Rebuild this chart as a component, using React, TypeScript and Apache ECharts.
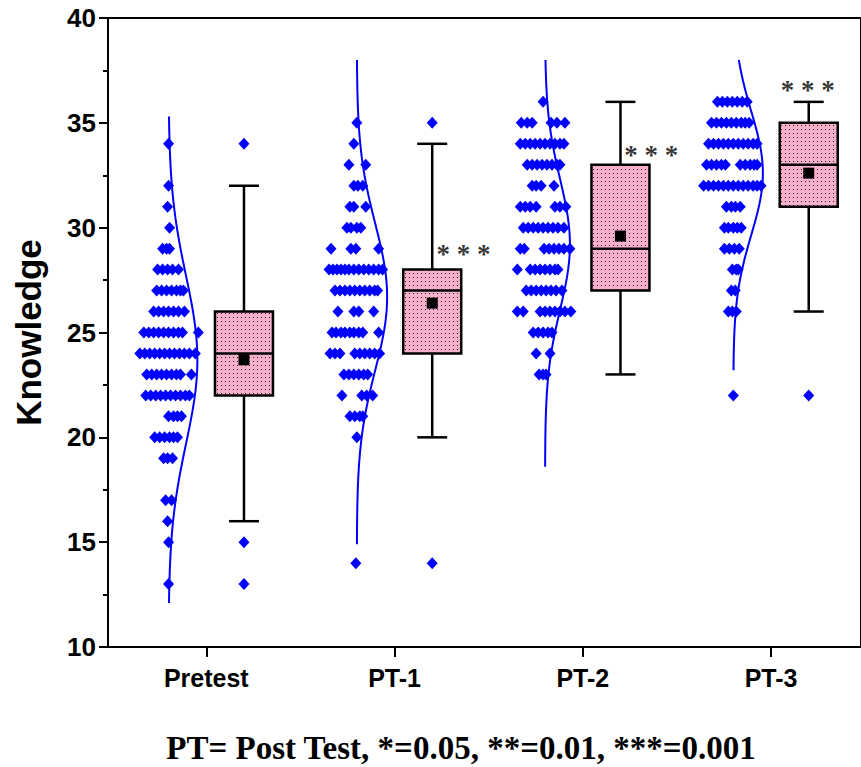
import React, { useEffect, useRef } from "react";
import * as echarts from "echarts";

// ---------------- data ----------------
const categories = ["Pretest", "PT-1", "PT-2", "PT-3"];

// box statistics
const whiskerLow = [16, 20, 23, 26];
const q1 = [22, 24, 27, 31];
const median = [24, 27, 29, 33];
const q3 = [26, 28, 33, 35];
const whiskerHigh = [32, 34, 36, 36];
const means = [23.7, 26.4, 29.6, 32.6];
const outliers: number[][] = [[34, 15, 13], [35, 14], [], [22]];

// fitted normal curves
const curveMean = [23.7, 26.7, 29.2, 32.6];
const curveSD = [4.0, 3.5, 3.1, 2.95];
const curveHeight = [0.153, 0.161, 0.132, 0.157]; // peak height, category units
const curveLow = [12.1, 14.9, 18.6, 23.2];
const curveHigh = [35.3, 38, 38, 38];

// significance marks
const sigLabels = ["", "***", "***", "***"];
const sigValue = [0, 29.1, 33.8, 36.9];

// individual scores: [score, jitter offsets (px)]
const pretestDots: [number, number[]][] = [
  [34, [0]], [32, [0]], [31, [-1]], [30, [1]],
  [29, [-6, -2, 1]],
  [28, [-11, -6, -1, 4, 10]],
  [27, [-12, -7, -2, 3, 8, 12, 15]],
  [26, [-15, -10, -5, 0, 5, 10, 16]],
  [25, [-25, -20, -15, -10, -5, 0, 5, 10, 14, 30]],
  [24, [-29, -24, -19, -14, -9, -4, 1, 6, 11, 16, 21, 27]],
  [23, [-22, -17, -12, -7, -2, 3, 8, 12, 23]],
  [22, [-23, -18, -13, -8, -3, 2, 7, 12, 17, 21]],
  [21, [0, 5, 9, 13]],
  [20, [-14, -9, -4, 1, 5, 9]],
  [19, [-5, -1, 4]],
  [17, [-3, 3]], [16, [-1]], [15, [0]], [13, [0]],
];
const pt1Dots: [number, number[]][] = [
  [35, [0]], [34, [-3]], [33, [-8, 9]],
  [32, [-3, 1, 6]],
  [31, [-7, -3, 9]],
  [30, [-10, -6, 0, 4]],
  [29, [-26, -6, -1, 22]],
  [28, [-28, -24, -20, -16, -12, -8, -3, 2, 7, 12, 17, 22, 26]],
  [27, [-22, -17, -12, -7, -2, 3, 8, 13, 18, 21]],
  [26, [-19, -3, 2, 17]],
  [25, [-25, -21, -16, -12, -7, -3, 2, 6, 22]],
  [24, [-27, -22, -17, -2, 3, 8, 13, 18, 23]],
  [23, [-13, -8, -3, 2, 7, 11]],
  [22, [-15, 5, 10, 16]],
  [21, [-7, -2, 3, 6]],
  [20, [0]], [14, [-1]],
];
const pt2Dots: [number, number[]][] = [
  [36, [-2]],
  [35, [-24, -18, -13, 6, 12, 20]],
  [34, [-25, -20, -15, -10, -5, 0, 5, 10, 15, 19]],
  [33, [-18, -13, -8, -3, 2, 7, 12, 15]],
  [32, [-13, -9, -4, 9]],
  [31, [-25, -20, -15, -9, 10, 15, 21]],
  [30, [-22, -17, -12, -7, -2, 3, 8, 13, 19]],
  [29, [-25, -21, -1, 4, 9, 14, 19, 25]],
  [28, [-28, -15, -10, -5, 0, 5, 10, 13]],
  [27, [-19, -14, -9, -4, 1, 6, 11, 17]],
  [26, [-28, -22, -5, 0, 5, 10, 15, 20, 26]],
  [25, [-12, -7, -2, 3, 7]],
  [24, [-9, 5]],
  [23, [-6, -2, 1]],
];
const pt3Dots: [number, number[]][] = [
  [36, [-16, -11, -6, -1, 4, 9, 14]],
  [35, [-22, -17, -12, -7, -2, 3, 8, 12, 16]],
  [34, [-25, -20, -15, -10, -5, 0, 5, 10, 15, 20, 24]],
  [33, [-27, -22, -17, -12, -8, 7, 12, 17, 21, 24]],
  [32, [-30, -25, -20, -15, -10, -5, 0, 5, 10, 15, 20, 24, 28]],
  [31, [-7, -2, 2, 7]],
  [30, [-9, -5, 0, 4, 8]],
  [29, [-9, -4, 1, 6]],
  [28, [-1, 3, 5]],
  [27, [-2, 2]],
  [26, [-5, -1, 3]],
  [22, [0]],
];
const groupDots = [pretestDots, pt1Dots, pt2Dots, pt3Dots];

const caption = "PT= Post Test, *=0.05, **=0.01, ***=0.001";

// ---------------- layout ----------------
const GRID = { left: 108, top: 18, width: 759, height: 629 };
const X_MIN = -0.522;
const X_MAX = 3.478;
const UNIT_PX = GRID.width / (X_MAX - X_MIN);
const DOT_OFF = -38 / UNIT_PX;
const BOX_OFF = 38 / UNIT_PX;
const SIG_OFF = [0, 0.366, 0.364, 0.195];
const BLUE = "#0000FF";
const PINK = "#F7AFCB";
const SANS = "'Liberation Sans', Arial, sans-serif";
const SERIF = "'Liberation Serif', 'Times New Roman', serif";

export default function App() {
  const ref = useRef<HTMLDivElement>(null);

  useEffect(() => {
    document.body.style.margin = "0";
    const chart = echarts.init(ref.current!, null, { renderer: "svg" });

    const cv = document.createElement("canvas");
    cv.width = 4;
    cv.height = 4;
    const ctx = cv.getContext("2d")!;
    ctx.fillStyle = PINK;
    ctx.fillRect(0, 0, 4, 4);
    ctx.fillStyle = "#222";
    ctx.fillRect(1, 1, 1, 1);
    const pattern: any = { image: cv, repeat: "repeat", imageWidth: 4, imageHeight: 4 };

    const curveSeries = categories.map((_, i) => {
      const pts: number[][] = [];
      const mu = curveMean[i];
      const sd = curveSD[i];
      const steps = Math.round((curveHigh[i] - curveLow[i]) / 0.1);
      for (let k = 0; k <= steps; k++) {
        const v = curveLow[i] + ((curveHigh[i] - curveLow[i]) * k) / steps;
        const d = curveHeight[i] * Math.exp(-((v - mu) * (v - mu)) / (2 * sd * sd));
        pts.push([i + DOT_OFF + d, v]);
      }
      return {
        type: "line",
        data: pts,
        showSymbol: false,
        symbol: "none",
        lineStyle: { color: BLUE, width: 2 },
        z: 2,
        silent: true,
      };
    });

    const dotData: number[][] = [];
    groupDots.forEach((rows, i) => {
      rows.forEach(([v, js]) => {
        js.forEach((j) => dotData.push([i + DOT_OFF + j / UNIT_PX, v]));
      });
    });

    const outlierData: number[][] = [];
    outliers.forEach((vals, i) => vals.forEach((v) => outlierData.push([i + BOX_OFF, v])));

    const sigData = sigLabels
      .map((s, i) => ({ s, i }))
      .filter((d) => d.s)
      .map((d) => ({ value: [d.i + SIG_OFF[d.i], sigValue[d.i]], name: d.s }));

    const option: any = {
      animation: false,
      backgroundColor: "#fff",
      grid: { ...GRID, show: true, borderColor: "#000", borderWidth: 2, containLabel: false },
      xAxis: {
        type: "value",
        min: X_MIN,
        max: X_MAX,
        splitLine: { show: false },
        axisLine: { show: true, onZero: false, lineStyle: { color: "#000", width: 2 } },
        axisTick: { show: true, customValues: [0, 1, 2, 3], length: 10, lineStyle: { color: "#000", width: 2 } },
        axisLabel: {
          customValues: [0, 1, 2, 3],
          formatter: (v: number) => categories[Math.round(v)] ?? "",
          fontSize: 25,
          fontWeight: "bold",
          fontFamily: SANS,
          color: "#000",
          margin: 18,
        },
      },
      yAxis: {
        type: "value",
        min: 10,
        max: 40,
        interval: 5,
        name: "Knowledge",
        nameLocation: "middle",
        nameRotate: 90,
        nameGap: 62,
        nameTextStyle: { fontSize: 35, fontWeight: "bold", fontFamily: SANS, color: "#000" },
        splitLine: { show: false },
        axisLine: { show: true, onZero: false, lineStyle: { color: "#000", width: 2 } },
        axisTick: { show: true, length: 9, lineStyle: { color: "#000", width: 2 } },
        minorTick: { show: true, splitNumber: 2, length: 5, lineStyle: { color: "#000", width: 2 } },
        axisLabel: { fontSize: 26, fontWeight: "bold", fontFamily: SANS, color: "#000", margin: 12 },
      },
      series: [
        ...curveSeries,
        {
          type: "scatter",
          data: dotData,
          symbol: "diamond",
          symbolSize: [11, 12],
          itemStyle: { color: BLUE, opacity: 1 },
          z: 3,
          silent: true,
        },
        {
          type: "custom",
          data: categories.map((_, i) => [i, whiskerLow[i], q1[i], median[i], q3[i], whiskerHigh[i], means[i]]),
          encode: { x: 0, y: [1, 2, 3, 4, 5] },
          z: 4,
          silent: true,
          renderItem: (params: any, api: any) => {
            const i = api.value(0);
            const cx = api.coord([i + BOX_OFF, 20])[0];
            const Y = (k: number) => api.coord([i, api.value(k)])[1];
            const lo = Y(1), a = Y(2), m = Y(3), b = Y(4), hi = Y(5), mean = Y(6);
            const line = (x1: number, y1: number, x2: number, y2: number) => ({
              type: "line",
              shape: { x1, y1, x2, y2 },
              style: { stroke: "#000", lineWidth: 2.5 },
            });
            return {
              type: "group",
              children: [
                line(cx, hi, cx, b),
                line(cx, a, cx, lo),
                line(cx - 15, hi, cx + 15, hi),
                line(cx - 15, lo, cx + 15, lo),
                {
                  type: "rect",
                  shape: { x: cx - 29, y: b, width: 58, height: a - b },
                  style: { fill: pattern, stroke: "#000", lineWidth: 2.5 },
                },
                line(cx - 29, m, cx + 29, m),
                {
                  type: "rect",
                  shape: { x: cx - 5.5, y: mean - 5.5, width: 11, height: 11 },
                  style: { fill: "#000" },
                },
              ],
            };
          },
        },
        {
          type: "scatter",
          data: outlierData,
          symbol: "diamond",
          symbolSize: [11, 12],
          itemStyle: { color: BLUE, opacity: 1 },
          z: 5,
          silent: true,
        },
        {
          type: "scatter",
          data: sigData,
          symbolSize: 1,
          itemStyle: { color: "rgba(0,0,0,0)" },
          z: 6,
          silent: true,
          label: {
            show: true,
            position: "inside",
            formatter: () => "* * *",
            fontSize: 27,
            fontWeight: "bold",
            fontFamily: SERIF,
            color: "#000",
            offset: [0, 7],
          },
        },
      ],
      graphic: [
        {
          type: "text",
          x: 461,
          y: 748,
          style: {
            text: caption,
            fontSize: 33,
            fontWeight: "bold",
            fontFamily: SERIF,
            fill: "#000",
            align: "center",
            verticalAlign: "middle",
          },
        },
      ],
    };

    chart.setOption(option);
    return () => chart.dispose();
  }, []);

  return <div ref={ref} style={{ width: 861, height: 767 }} />;
}
